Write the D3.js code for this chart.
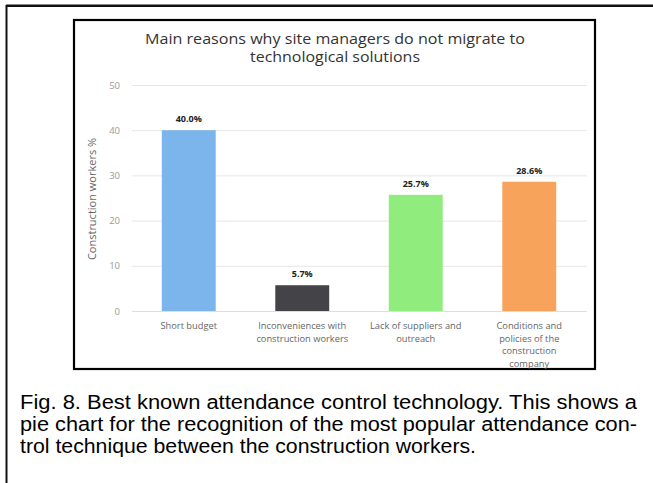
<!DOCTYPE html>
<html>
<head>
<meta charset="utf-8">
<script src="https://cdn.jsdelivr.net/npm/d3@7/dist/d3.min.js"></script>
<style>
  html, body { margin: 0; padding: 0; background: #fff; }
  svg { display: block; }
</style>
</head>
<body>
<svg id="fig" width="653" height="483"></svg>
<script>
// Survey results: reasons for not adopting technology on site
const categories = [
  ["Short budget"],
  ["Inconveniences with", "construction workers"],
  ["Lack of suppliers and", "outreach"],
  ["Conditions and", "policies of the", "construction", "company"]
];
const values = [40.0, 5.7, 25.7, 28.6];
const barColors = ["#7cb5ec", "#434348", "#90ed7d", "#f7a35c"];
const yTicks = [0, 10, 20, 30, 40, 50];
const titleLines = ["Main reasons why site managers do not migrate to", "technological solutions"];
const titleWidths = [380, 170];
const yAxisTitle = "Construction workers %";
const captionLines = [
  "Fig. 8. Best known attendance control technology. This shows a",
  "pie chart for the recognition of the most popular attendance con-",
  "trol technique between the construction workers."
];
const captionWidths = [617, 617, 456];

const svg = d3.select("#fig");

// outer frame (top and left edges)
svg.append("path")
  .attr("d", "M6.5,500 L6.5,6 L653,6")
  .attr("fill", "none").attr("stroke", "#111").attr("stroke-width", 2);
svg.append("line").attr("x1", 6).attr("x2", 653).attr("y1", 4.5).attr("y2", 4.5)
  .attr("stroke", "#888").attr("stroke-width", 1);

// inner chart box
svg.append("rect")
  .attr("x", 74).attr("y", 20).attr("width", 521).attr("height", 349)
  .attr("fill", "#fff").attr("stroke", "#000").attr("stroke-width", 2.2);

const font = "'Open Sans', 'DejaVu Sans', sans-serif";

const x = d3.scaleBand().domain(d3.range(categories.length)).range([132, 586]).paddingInner(0.525).paddingOuter(0.2625);
const y = d3.scaleLinear().domain([0, 50]).range([311, 85]);

// gridlines
svg.append("g").selectAll("line").data(yTicks.filter(t => t > 0)).join("line")
  .attr("x1", 132).attr("x2", 587)
  .attr("y1", d => y(d) + 0.5).attr("y2", d => y(d) + 0.5)
  .attr("stroke", "#e6e6e6").attr("stroke-width", 1);

// y axis tick labels
const yAxis = d3.axisLeft(y).tickValues(yTicks).tickSize(0).tickPadding(0);
const gy = svg.append("g").attr("transform", "translate(120,0)").call(yAxis);
gy.select(".domain").remove();
gy.selectAll("text")
  .attr("font-family", font).attr("font-size", 9.5).attr("fill", "#999");

// y axis title
svg.append("text")
  .attr("transform", "translate(96,199) rotate(-90)")
  .attr("text-anchor", "middle")
  .attr("font-family", font).attr("font-size", 11).attr("fill", "#666")
  .text(yAxisTitle);

// bars
svg.append("g").selectAll("rect").data(values).join("rect")
  .attr("x", (d, i) => x(i))
  .attr("width", x.bandwidth())
  .attr("y", d => y(d))
  .attr("height", d => y(0) - y(d))
  .attr("fill", (d, i) => barColors[i]);

// x axis baseline
svg.append("line").attr("x1", 132).attr("x2", 587).attr("y1", 311.5).attr("y2", 311.5)
  .attr("stroke", "#d8dfe8").attr("stroke-width", 1);

// value labels
svg.append("g").selectAll("text").data(values).join("text")
  .attr("x", (d, i) => x(i) + x.bandwidth() / 2)
  .attr("y", d => y(d) - 8)
  .attr("text-anchor", "middle")
  .attr("font-family", font).attr("font-size", 9).attr("font-weight", "bold").attr("fill", "#222")
  .text(d => d.toFixed(1) + "%");

// category labels
const cat = svg.append("g").selectAll("text").data(categories).join("text")
  .attr("x", (d, i) => x(i) + x.bandwidth() / 2)
  .attr("y", 329)
  .attr("text-anchor", "middle")
  .attr("font-family", font).attr("font-size", 9.3).attr("fill", "#666");
cat.selectAll("tspan").data(d => d).join("tspan")
  .attr("x", function () { return this.parentNode.getAttribute("x"); })
  .attr("dy", (d, i) => i === 0 ? 0 : 12.7)
  .text(d => d);

// chart title
svg.append("g").selectAll("text").data(titleLines).join("text")
  .attr("x", 335).attr("y", (d, i) => 44 + i * 18)
  .attr("text-anchor", "middle")
  .attr("font-family", font).attr("font-size", 14).attr("fill", "#333")
  .attr("textLength", (d, i) => titleWidths[i]).attr("lengthAdjust", "spacingAndGlyphs")
  .text(d => d);

// caption, justified to the block width
svg.append("g").selectAll("text").data(captionLines).join("text")
  .attr("x", 20).attr("y", (d, i) => 409 + i * 22)
  .attr("font-family", "'Liberation Sans', Arial, sans-serif").attr("font-size", 19.5).attr("fill", "#000")
  .attr("textLength", (d, i) => captionWidths[i]).attr("lengthAdjust", "spacingAndGlyphs")
  .text(d => d);
</script>
</body>
</html>
